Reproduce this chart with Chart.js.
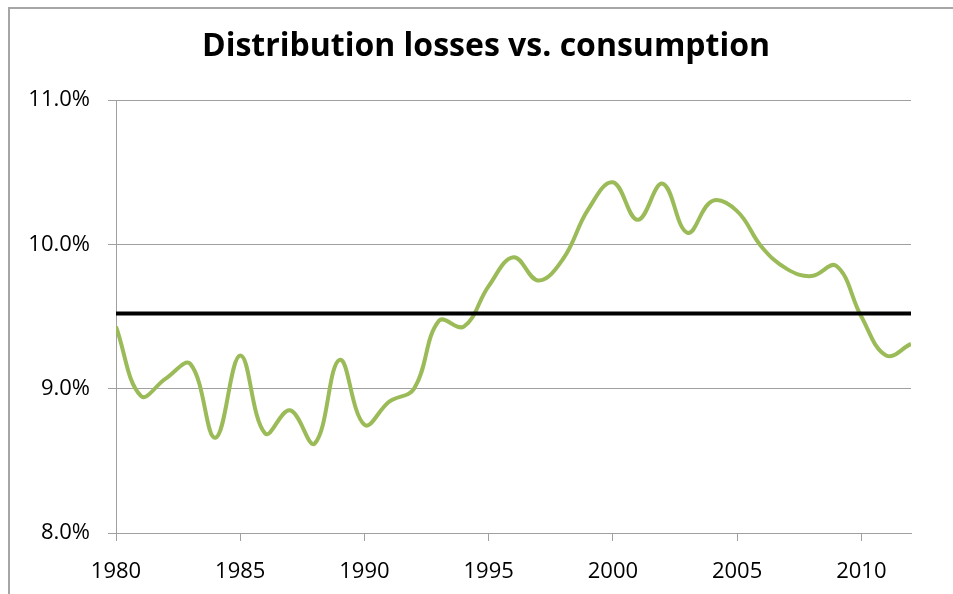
<!DOCTYPE html>
<html>
<head>
<meta charset="utf-8">
<title>Distribution losses vs. consumption</title>
<script src="https://cdn.jsdelivr.net/npm/chart.js@4.4.0/dist/chart.umd.min.js"></script>
<style>
  html, body { margin: 0; padding: 0; background: #fff; }
  #wrap { position: relative; width: 953px; height: 594px; overflow: hidden; }
  #frame {
    position: absolute; left: 8px; top: 7px; width: 1000px; height: 700px;
    border-left: 2px solid #a6a6a6; border-top: 2px solid #a6a6a6;
  }
  #chart { position: absolute; left: 0; top: 0; }
</style>
</head>
<body>
<div id="wrap">
  <div id="frame"></div>
  <canvas id="chart" width="953" height="594"></canvas>
</div>
<script>
// Data
const years = [1980, 1981, 1982, 1983, 1984, 1985, 1986, 1987, 1988, 1989, 1990,
  1991, 1992, 1993, 1994, 1995, 1996, 1997, 1998, 1999, 2000,
  2001, 2002, 2003, 2004, 2005, 2006, 2007, 2008, 2009, 2010, 2011, 2012];
const losses = [9.43, 8.95, 9.07, 9.17, 8.66, 9.23, 8.69, 8.85, 8.62, 9.20, 8.75,
  8.91, 9.00, 9.47, 9.43, 9.71, 9.91, 9.75, 9.90, 10.24, 10.43,
  10.17, 10.42, 10.08, 10.30, 10.23, 9.98, 9.83, 9.78, 9.85, 9.50, 9.23, 9.31];
const averageYears = [1980, 2012];
const averageLevel = [9.52, 9.52];
const yTicks = [8, 9, 10, 11];

const TITLE = 'Distribution losses vs. consumption';
const GRID = '#a0a0a0';
const FONT = '"Open Sans", Lato, sans-serif';

const toPoints = (xs, ys) => xs.map((x, i) => ({ x, y: ys[i] }));

// The title in the original is not centred on the canvas, so draw it ourselves
const offsetTitle = {
  id: 'offsetTitle',
  afterDraw(chart) {
    const c = chart.ctx;
    c.save();
    c.font = `bold 32px ${FONT}`;
    c.fillStyle = '#000';
    c.textAlign = 'center';
    c.textBaseline = 'middle';
    c.fillText(TITLE, 486, 47);
    c.restore();
  },
};

const ctx = document.getElementById('chart').getContext('2d');
new Chart(ctx, {
  type: 'line',
  data: {
    datasets: [
      {
        label: 'Average',
        data: toPoints(averageYears, averageLevel),
        borderColor: '#000',
        borderWidth: 4,
        pointRadius: 0,
        tension: 0,
        order: 0,
      },
      {
        label: 'Losses',
        data: toPoints(years, losses),
        borderColor: '#9bbb59',
        borderWidth: 4,
        pointRadius: 0,
        tension: 0.4,
        order: 1,
      },
    ],
  },
  plugins: [offsetTitle],
  options: {
    responsive: false,
    animation: false,
    layout: { padding: { left: 0, right: 42, top: 100, bottom: 0 } },
    plugins: {
      legend: { display: false },
      tooltip: { enabled: false },
      title: { display: false },
    },
    scales: {
      x: {
        type: 'linear',
        min: 1980,
        max: 2012,
        afterFit: (scale) => { scale.height = 61; },
        grid: {
          display: true,
          drawOnChartArea: false,
          drawTicks: true,
          tickLength: 8,
          color: GRID,
        },
        border: { display: true, color: GRID, width: 1 },
        ticks: {
          stepSize: 5,
          includeBounds: false,
          maxRotation: 0,
          padding: 18,
          color: '#000',
          font: { family: FONT, size: 22 },
          callback: (v) => String(v),
        },
      },
      y: {
        min: 8,
        max: 11,
        afterFit: (scale) => { scale.width = 116; },
        afterBuildTicks: (scale) => { scale.ticks = yTicks.map((v) => ({ value: v })); },
        grid: {
          color: GRID,
          tickLength: 8,
        },
        border: { display: true, color: GRID, width: 1 },
        ticks: {
          padding: 18,
          color: '#000',
          font: { family: FONT, size: 22 },
          callback: (v) => v.toFixed(1) + '%',
        },
      },
    },
  },
});
</script>
</body>
</html>
